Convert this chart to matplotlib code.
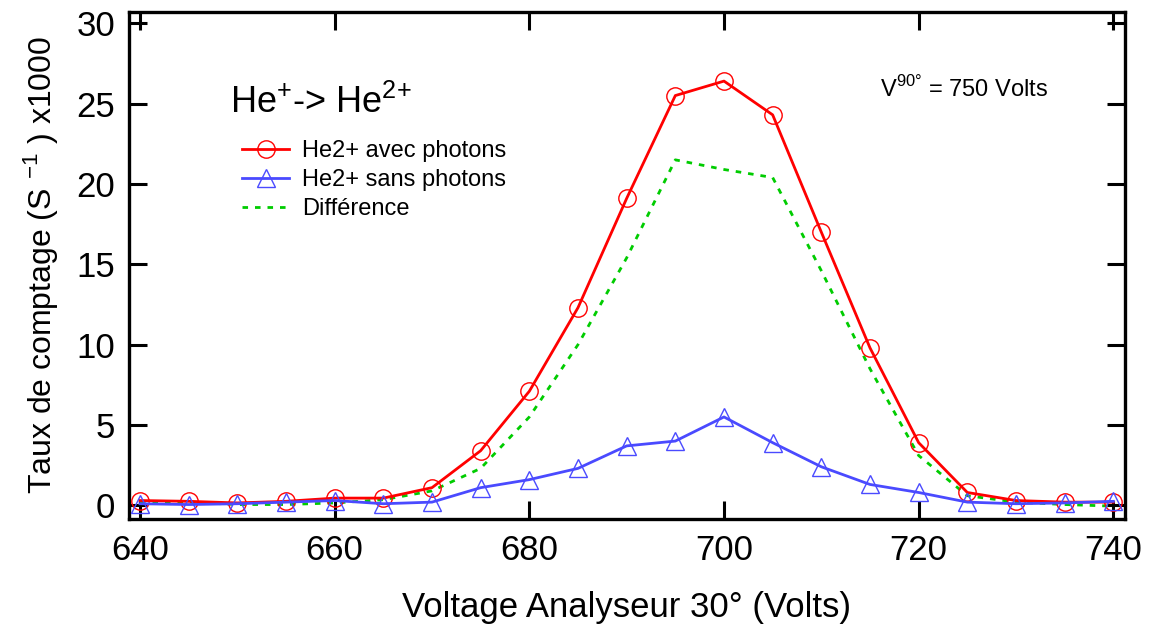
import matplotlib
matplotlib.use("Agg")
import matplotlib.pyplot as plt

plt.rcParams['font.family'] = ['Liberation Sans', 'DejaVu Sans']
plt.rcParams['mathtext.fontset'] = 'custom'
plt.rcParams['mathtext.rm'] = 'Liberation Sans'

voltage = [640, 645, 650, 655, 660, 665, 670, 675, 680, 685, 690,
           695, 700, 705, 710, 715, 720, 725, 730, 735, 740]
avec = [0.3, 0.25, 0.15, 0.25, 0.45, 0.45, 1.1, 3.4, 7.1, 12.3, 19.1,
        25.5, 26.4, 24.3, 17.0, 9.8, 3.9, 0.8, 0.3, 0.2, 0.2]
sans = [0.1, 0.05, 0.1, 0.2, 0.3, 0.1, 0.2, 1.1, 1.6, 2.3, 3.7,
        4.0, 5.5, 3.9, 2.4, 1.3, 0.8, 0.2, 0.1, 0.15, 0.25]
diff = [0.2, 0.2, 0.05, 0.05, 0.15, 0.35, 0.9, 2.3, 5.5, 10.0, 15.4,
        21.5, 20.9, 20.4, 14.6, 8.5, 3.1, 0.6, 0.2, 0.05, -0.05]

fig = plt.figure(figsize=(11.51, 6.29), dpi=100)
ax = fig.add_axes([129/1151, 1-519/629, (1125-129)/1151, (519-12)/629])

ax.plot(voltage, avec, color='#ff0000', lw=2.0, marker='o', ms=12.5,
        mfc='none', mec='#ff0000', mew=1.0, label='He2+ avec photons', zorder=3)
ax.plot(voltage, sans, color='#4a4aff', lw=2.0, marker='^', ms=12.5,
        mfc='none', mec='#4a4aff', mew=1.0, label='He2+ sans photons', zorder=4)
ax.plot(voltage, diff, color='#00cc00', lw=2.0, ls=(0, (2, 2.5)),
        label='Différence', zorder=2)

ax.set_xlim(638.87, 741.2)
ax.set_ylim(-0.85, 30.7)
ax.set_xticks([640, 660, 680, 700, 720, 740])
ax.set_yticks([0, 5, 10, 15, 20, 25, 30])
ax.tick_params(direction='in', length=13, width=2.2, labelsize=25,
               top=True, right=True)
ax.tick_params(axis='x', pad=11)
ax.tick_params(axis='y', pad=10)
for s in ax.spines.values():
    s.set_linewidth(2.4)

ax.set_xlabel('Voltage Analyseur 30° (Volts)', fontsize=25, labelpad=17)
ax.set_ylabel(r'Taux de comptage (S $^{-1}$ ) x1000', fontsize=23, labelpad=12)

fig.text(230/1151, 1-113/629, r'He$^{+}$-> He$^{2{+}}$', fontsize=26,
         ha='left', va='baseline')
fig.text(880/1151, 1-97/629, r'V$^{90°}$ = 750 Volts', fontsize=17,
         ha='left', va='baseline')

leg = ax.legend(loc='upper left', bbox_to_anchor=(242/1151, 1-140/629),
                bbox_transform=fig.transFigure, frameon=False, fontsize=17,
                numpoints=1, handlelength=2.0, handletextpad=0.55,
                labelspacing=0.3, borderaxespad=0, borderpad=0)

fig.savefig('out.png', dpi=100)
